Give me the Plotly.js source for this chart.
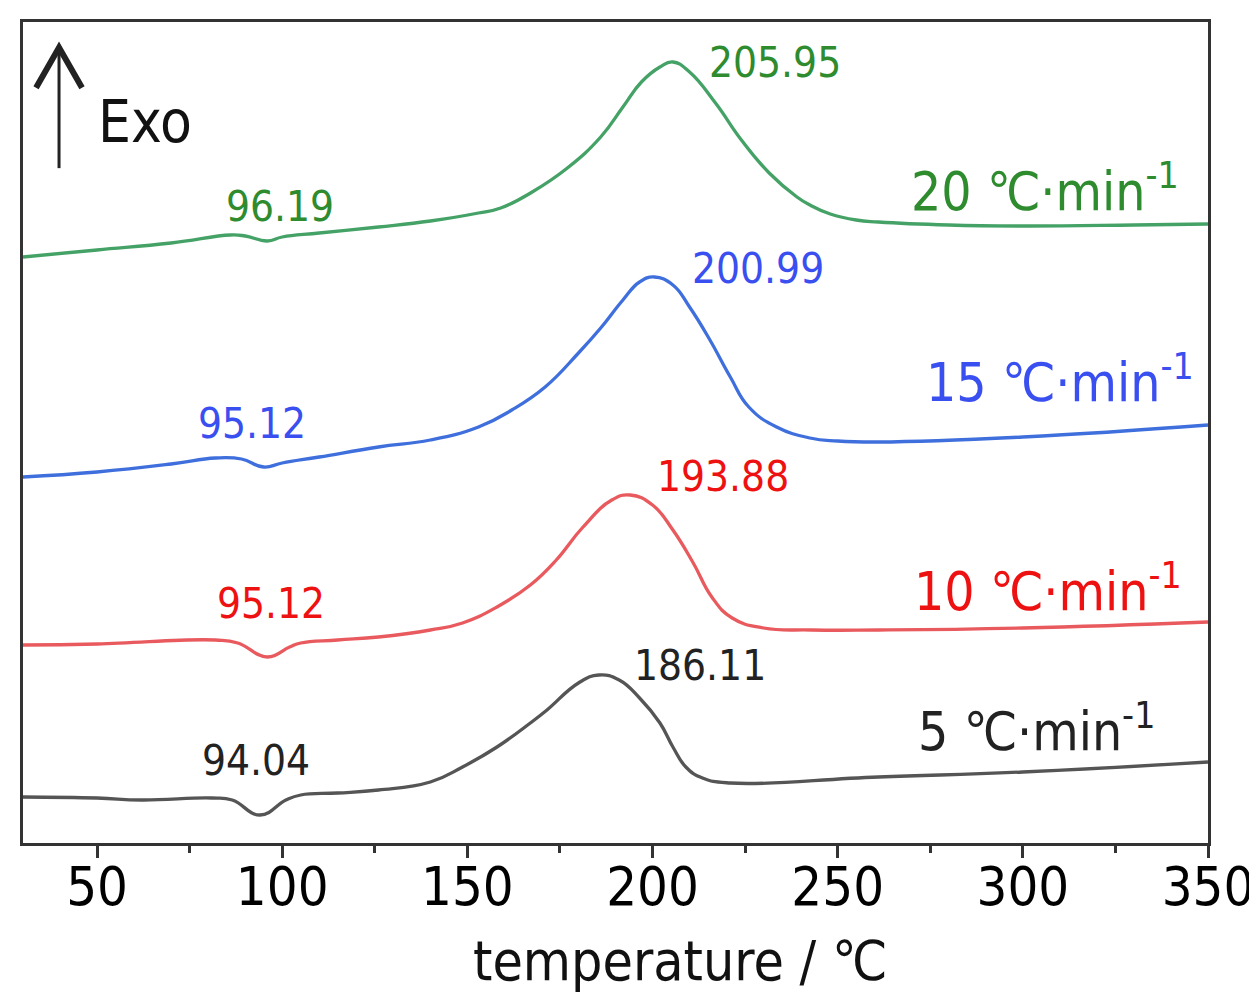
<!DOCTYPE html>
<html>
<head>
<meta charset="utf-8">
<script src="https://cdn.plot.ly/plotly-3.0.1.min.js"></script>
<style>
  html, body { margin: 0; padding: 0; background: #fff; }
  #chart { width: 1249px; height: 996px; }
</style>
</head>
<body>
<div id="chart"></div>
<script>
// DSC curves, heat flow in arbitrary units (stacked)
var t5 = [30, 50, 62, 81, 86.5, 94, 101, 105, 115, 126, 140, 148.7, 158, 167, 171.5, 180, 185.5, 191, 196.5, 202, 205.5, 209, 213.5, 221, 261, 300, 350];
var hf5 = [0.46, 0.45, 0.43, 0.45, 0.43, 0.28, 0.43, 0.48, 0.50, 0.53, 0.61, 0.76, 0.96, 1.20, 1.33, 1.60, 1.68, 1.63, 1.45, 1.20, 0.96, 0.76, 0.65, 0.60, 0.66, 0.71, 0.81];

var t10 = [30, 50, 82, 88, 96, 102, 105, 115, 126, 140, 148.7, 158, 167, 174, 181, 189, 194, 200, 205.5, 211, 216, 221.5, 230, 243, 261, 300, 350];
var hf10 = [1.98, 1.99, 2.03, 2.00, 1.86, 1.96, 2.00, 2.03, 2.06, 2.13, 2.20, 2.36, 2.58, 2.83, 3.15, 3.43, 3.48, 3.38, 3.13, 2.80, 2.46, 2.25, 2.15, 2.13, 2.13, 2.15, 2.21];

var t15 = [30, 50, 70, 82, 89, 95, 100, 110, 126, 140, 153, 162, 171, 180, 186, 192, 196.5, 200.5, 205.5, 210, 215.5, 221, 226, 233.5, 242.5, 250, 261, 300, 350];
var hf15 = [3.66, 3.71, 3.79, 3.85, 3.84, 3.76, 3.80, 3.86, 3.96, 4.03, 4.16, 4.33, 4.56, 4.90, 5.15, 5.43, 5.61, 5.66, 5.58, 5.36, 5.03, 4.66, 4.36, 4.16, 4.05, 4.02, 4.01, 4.06, 4.18];

var t20 = [30, 50, 70, 86, 90, 96, 100, 110, 126, 140, 153, 159, 167.5, 177, 186, 192, 197, 202, 205.5, 210, 217, 224, 231.5, 239, 242.5, 248, 255, 261, 280, 300, 330, 350];
var hf20 = [5.86, 5.93, 6.00, 6.08, 6.07, 6.02, 6.06, 6.10, 6.16, 6.22, 6.30, 6.35, 6.51, 6.75, 7.06, 7.36, 7.61, 7.76, 7.81, 7.71, 7.40, 7.03, 6.70, 6.46, 6.38, 6.29, 6.23, 6.21, 6.18, 6.17, 6.18, 6.19];

var rates = ['5', '10', '15', '20'];
var lineColors = ['#555555', '#e95a5e', '#3f6fdc', '#45a266'];
var textColors = ['#222222', '#ee1111', '#3a4ff0', '#2e8b2e'];

// peak / dip labels: [x, y] in data units, text
var dipLabels = ['94.04', '95.12', '95.12', '96.19'];
var dipPos = [[93, 0.83], [97, 2.40], [91.8, 4.20], [99.5, 6.37]];
var peakLabels = ['186.11', '193.88', '200.99', '205.95'];
var peakPos = [[212.7, 1.78], [219, 3.67], [228.6, 5.75], [233, 7.81]];
var ratePos = [[271.2, 1.15], [270.2, 2.55], [273.4, 4.64], [269.3, 6.55]];

var FONT = '"DejaVu Sans Condensed", "Liberation Sans Narrow", "Liberation Sans", Arial, sans-serif';

var xs = [t5, t10, t15, t20];
var ys = [hf5, hf10, hf15, hf20];

var traces = xs.map(function (x, i) {
  return {
    x: x,
    y: ys[i],
    mode: 'lines',
    type: 'scatter',
    line: { color: lineColors[i], width: 3.3, shape: 'spline', smoothing: 1.3 },
    hoverinfo: 'skip'
  };
});

var annotations = [];
rates.forEach(function (r, i) {
  annotations.push({
    x: dipPos[i][0], y: dipPos[i][1], text: dipLabels[i], showarrow: false,
    font: { family: FONT, size: 42, color: textColors[i] }
  });
  annotations.push({
    x: peakPos[i][0], y: peakPos[i][1], text: peakLabels[i], showarrow: false,
    font: { family: FONT, size: 42, color: textColors[i] }
  });
  annotations.push({
    x: ratePos[i][0], y: ratePos[i][1], xanchor: 'left',
    text: r + ' ℃·min<sup>-1</sup>', showarrow: false,
    font: { family: FONT, size: 53, color: textColors[i] }
  });
});

annotations.push({
  xref: 'paper', yref: 'paper', x: 0.062, y: 0.878, xanchor: 'left', yanchor: 'middle',
  text: 'Exo', showarrow: false,
  font: { family: FONT, size: 58, color: '#111' }
});
annotations.push({
  xref: 'paper', yref: 'paper', x: 0.555, y: -0.102, xanchor: 'center', yanchor: 'top',
  text: 'temperature / ℃', showarrow: false,
  font: { family: FONT, size: 55, color: '#111' }
});

var layout = {
  width: 1249,
  height: 996,
  margin: { l: 23, r: 41, t: 22, b: 153 },
  paper_bgcolor: '#fff',
  plot_bgcolor: '#fff',
  showlegend: false,
  xaxis: {
    range: [30, 350],
    tick0: 50,
    dtick: 50,
    ticks: 'outside',
    ticklen: 12,
    tickwidth: 3,
    tickcolor: '#333',
    ticklabelstandoff: -18,
    ticklabeloverflow: 'allow',
    minor: { dtick: 25, tick0: 25, ticks: 'outside', ticklen: 7, tickwidth: 3, tickcolor: '#333' },
    showline: true,
    linewidth: 3,
    linecolor: '#333',
    mirror: true,
    showgrid: false,
    zeroline: false,
    tickfont: { family: FONT, size: 54, color: '#000' }
  },
  yaxis: {
    range: [0, 8.21],
    showticklabels: false,
    ticks: '',
    showline: true,
    linewidth: 3,
    linecolor: '#333',
    mirror: true,
    showgrid: false,
    zeroline: false
  },
  shapes: [
    // Exo arrow
    { type: 'line', xref: 'paper', yref: 'paper', x0: 0.0304, x1: 0.0304, y0: 0.822, y1: 0.968,
      line: { color: '#222', width: 3 } },
    { type: 'path', xref: 'paper', yref: 'paper',
      path: 'M 0.0110 0.920 L 0.0304 0.969 L 0.0498 0.920',
      line: { color: '#222', width: 6 } }
  ],
  annotations: annotations
};

Plotly.newPlot('chart', traces, layout, { staticPlot: true });
</script>
</body>
</html>
